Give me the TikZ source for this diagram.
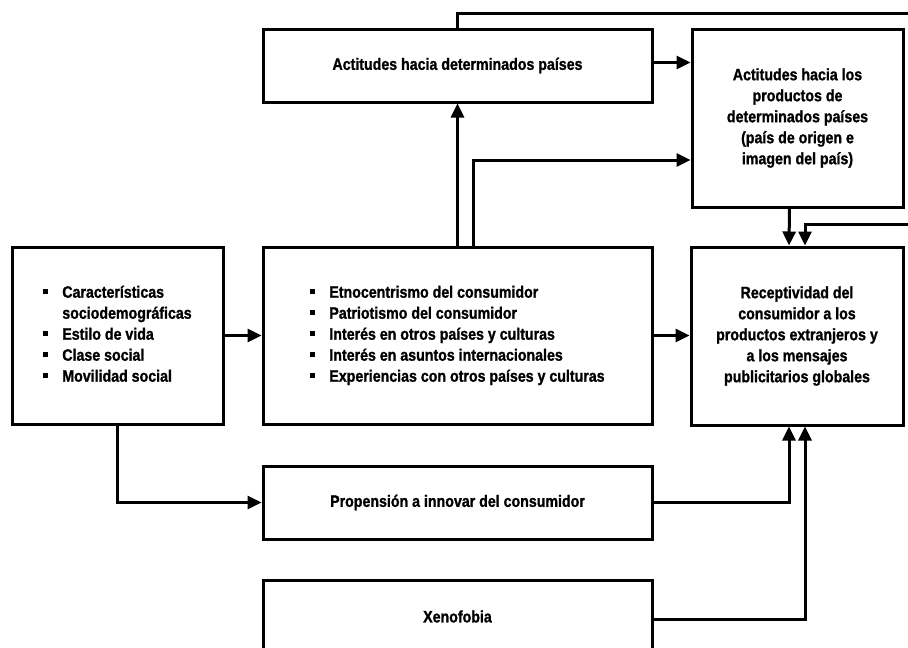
\documentclass[tikz,border=0pt]{standalone}
\usepackage{fontspec}
\setmainfont{Liberation Sans}[FakeStretch=0.86, BoldFeatures={FakeBold=1.2}]
\usetikzlibrary{arrows.meta,calc}

% small square bullet for the item lists
\newcommand{\sqbullet}{\makebox[19pt][l]{\rule[3.5pt]{5pt}{5pt}}}

\begin{document}
\begin{tikzpicture}[x=1pt,y=-1pt,
  txt/.style={font=\fontsize{16.5}{21}\selectfont\bfseries},
  box/.style={draw, line width=3pt, inner sep=0pt, align=center, txt},
  arr/.style={line width=3pt, -{Triangle[length=14pt,width=13pt]}}]
  \useasboundingbox (0,0) rectangle (908,648);

  % boxes
  \node[box, minimum width=389pt, minimum height=73pt] (top) at (457.5,65.5)
    {Actitudes hacia determinados países};
  \node[box, minimum width=211pt, minimum height=178pt] (prod) at (797.5,118)
    {Actitudes hacia los\\productos de\\determinados países\\(país de origen e\\imagen del país)};
  \node[box, minimum width=211pt, minimum height=177pt] (b1) at (117.5,335.5)
    {\begin{tabular}{@{}l@{}l@{}}
      \sqbullet & Características\\
                & sociodemográficas\\
      \sqbullet & Estilo de vida\\
      \sqbullet & Clase social\\
      \sqbullet & Movilidad social
     \end{tabular}};
  \node[box, minimum width=389pt, minimum height=177pt] (b2) at (457.5,335.5)
    {\begin{tabular}{@{}l@{}l@{}}
      \sqbullet & Etnocentrismo del consumidor\\
      \sqbullet & Patriotismo del consumidor\\
      \sqbullet & Interés en otros países y culturas\\
      \sqbullet & Interés en asuntos internacionales\\
      \sqbullet & Experiencias con otros países y culturas
     \end{tabular}};
  \node[box, minimum width=212pt, minimum height=178pt] (b3) at (797,336)
    {Receptividad del\\consumidor a los\\productos extranjeros y\\a los mensajes\\publicitarios globales};
  \node[box, minimum width=389pt, minimum height=73pt] (prop) at (457.5,502.5)
    {Propensión a innovar del consumidor};
  \node[box, minimum width=389pt, minimum height=73pt] (xeno) at (457.5,616.5)
    {Xenofobia};

  % loop running past the right edge
  \coordinate (ra) at (920,13);
  \coordinate (rb) at (920,224);

  % connectors
  \draw[arr] ([yshift=3pt]top.east) -- ([yshift=3pt]top.east -| prod.west);
  \draw[arr] (b2.north) -- (top.south);
  \draw[arr] ([xshift=16pt]b2.north) |- ([yshift=-42pt]prod.west);
  \draw[arr] (top.north) |- (ra) -- (rb) -| ([xshift=8pt]b3.north);
  \draw[arr] ([xshift=-8pt]prod.south) -- ([xshift=-8pt]b3.north);
  \draw[arr] (b1.east) -- (b2.west);
  \draw[arr] (b2.east) -- (b2.east -| b3.west);
  \draw[arr] (b1.south) |- (prop.west);
  \draw[arr] (prop.east) -| ([xshift=-8pt]b3.south);
  \draw[arr] ([yshift=-2.5pt]xeno.east) -| ([xshift=8pt]b3.south);
\end{tikzpicture}
\end{document}
